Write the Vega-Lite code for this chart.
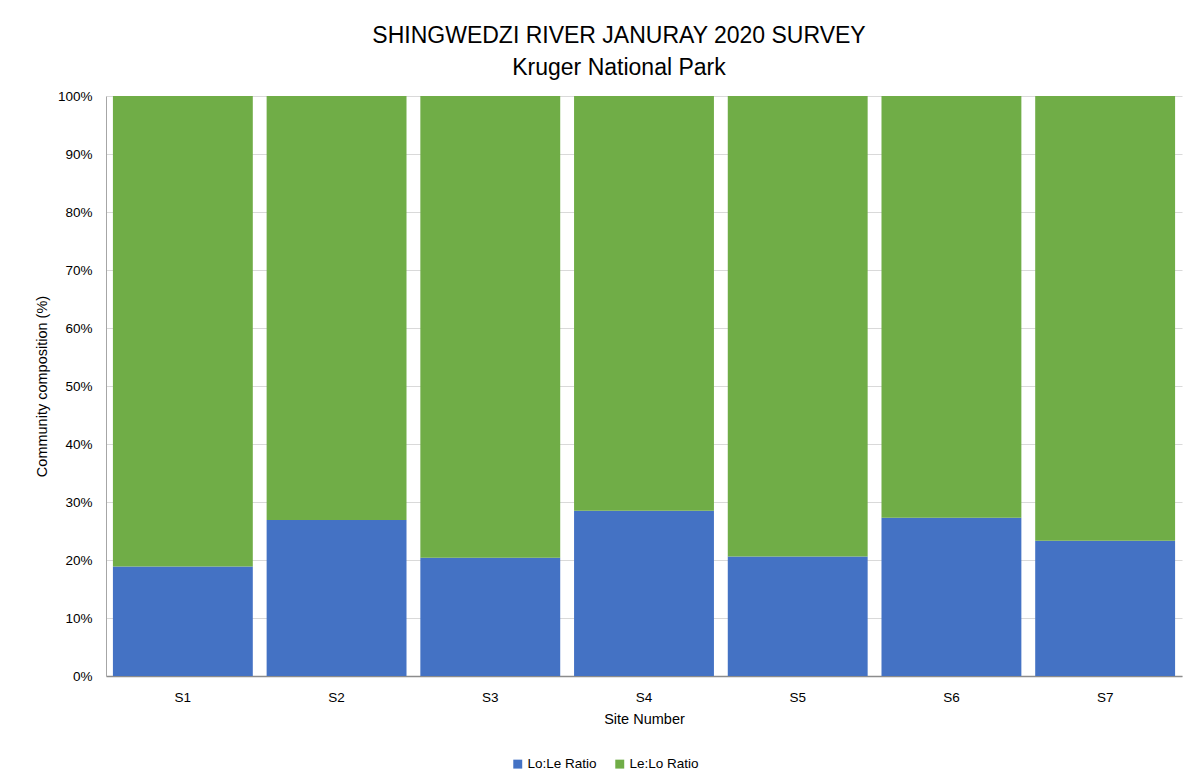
{
  "$schema": "https://vega.github.io/schema/vega-lite/v6.json",
  "autosize": "none",
  "width": 1076,
  "height": 580,
  "padding": {"left": 106, "top": 96, "right": 15, "bottom": 102},
  "background": "white",
  "title": {
    "text": "SHINGWEDZI RIVER JANURAY 2020 SURVEY",
    "subtitle": "Kruger National Park",
    "anchor": "middle",
    "dx": -25,
    "offset": 9,
    "font": "Liberation Sans",
    "fontSize": 23,
    "fontWeight": "normal",
    "color": "#000000",
    "subtitleFont": "Liberation Sans",
    "subtitleFontSize": 23,
    "subtitleColor": "#000000",
    "subtitlePadding": 9
  },
  "data": {
    "values": [
      {"site": "S1", "ratio": "Lo:Le Ratio", "share": 0.189, "ord": 0},
      {"site": "S1", "ratio": "Le:Lo Ratio", "share": 0.811, "ord": 1},
      {"site": "S2", "ratio": "Lo:Le Ratio", "share": 0.269, "ord": 0},
      {"site": "S2", "ratio": "Le:Lo Ratio", "share": 0.731, "ord": 1},
      {"site": "S3", "ratio": "Lo:Le Ratio", "share": 0.204, "ord": 0},
      {"site": "S3", "ratio": "Le:Lo Ratio", "share": 0.796, "ord": 1},
      {"site": "S4", "ratio": "Lo:Le Ratio", "share": 0.285, "ord": 0},
      {"site": "S4", "ratio": "Le:Lo Ratio", "share": 0.715, "ord": 1},
      {"site": "S5", "ratio": "Lo:Le Ratio", "share": 0.206, "ord": 0},
      {"site": "S5", "ratio": "Le:Lo Ratio", "share": 0.794, "ord": 1},
      {"site": "S6", "ratio": "Lo:Le Ratio", "share": 0.273, "ord": 0},
      {"site": "S6", "ratio": "Le:Lo Ratio", "share": 0.727, "ord": 1},
      {"site": "S7", "ratio": "Lo:Le Ratio", "share": 0.233, "ord": 0},
      {"site": "S7", "ratio": "Le:Lo Ratio", "share": 0.767, "ord": 1}
    ]
  },
  "mark": {"type": "bar"},
  "encoding": {
    "x": {
      "field": "site",
      "type": "nominal",
      "scale": {"paddingInner": 0.09, "paddingOuter": 0.045},
      "axis": {
        "title": "Site Number",
        "labelAngle": 0,
        "ticks": false,
        "labelPadding": 14,
        "titlePadding": 9,
        "domainColor": "#8c8c8c",
        "domainWidth": 1.5,
        "grid": false
      }
    },
    "y": {
      "field": "share",
      "type": "quantitative",
      "stack": "zero",
      "scale": {"domain": [0, 1], "nice": false},
      "axis": {
        "title": "Community composition  (%)",
        "format": ".0%",
        "values": [0, 0.1, 0.2, 0.3, 0.4, 0.5, 0.6, 0.7, 0.8, 0.9, 1],
        "ticks": false,
        "labelPadding": 14,
        "titlePadding": 8,
        "domainColor": "#a6a6a6",
        "gridColor": "#d9d9d9",
        "gridWidth": 1
      }
    },
    "color": {
      "field": "ratio",
      "type": "nominal",
      "scale": {
        "domain": ["Lo:Le Ratio", "Le:Lo Ratio"],
        "range": ["#4472C4", "#70AD47"]
      },
      "legend": {
        "title": null,
        "orient": "none",
        "direction": "horizontal",
        "legendX": 405,
        "legendY": 661,
        "symbolType": "square",
        "symbolSize": 80,
        "symbolStrokeWidth": 0,
        "labelFont": "Liberation Sans",
        "labelFontSize": 13.5,
        "labelColor": "#000000",
        "columnPadding": 16,
        "labelOffset": 3
      }
    },
    "order": {"field": "ord", "type": "quantitative"}
  },
  "config": {
    "view": {"stroke": null},
    "axis": {
      "labelFont": "Liberation Sans",
      "labelFontSize": 13.5,
      "labelColor": "#000000",
      "titleFont": "Liberation Sans",
      "titleFontSize": 14.5,
      "titleFontWeight": "normal",
      "titleColor": "#000000"
    }
  }
}
